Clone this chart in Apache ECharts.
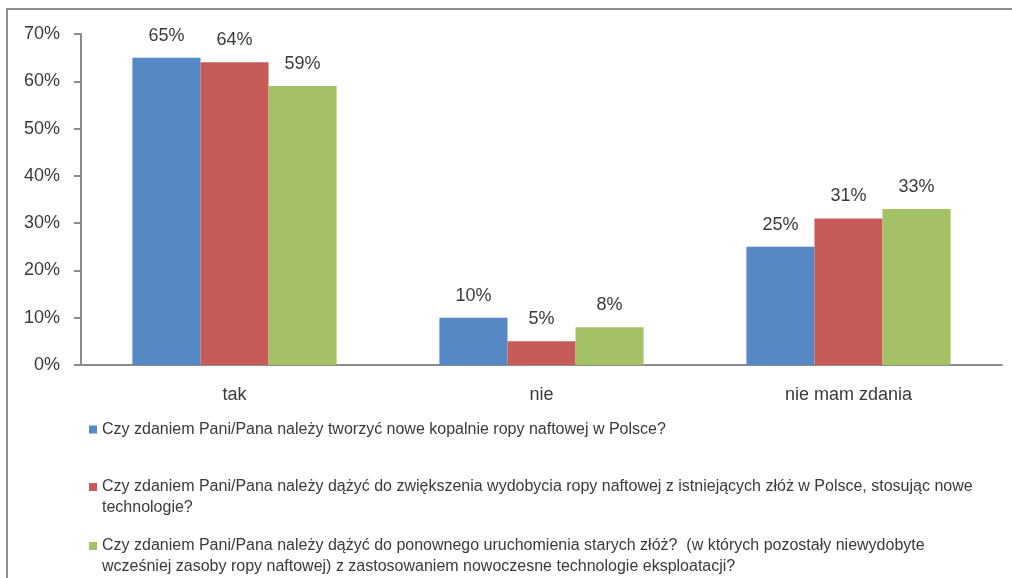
<!DOCTYPE html>
<html>
<head>
<meta charset="utf-8">
<script src="https://cdn.jsdelivr.net/npm/echarts@6/dist/echarts.min.js"></script>
<style>
html,body{margin:0;padding:0;background:#fff;}
#chart{width:1012px;height:578px;}
</style>
</head>
<body>
<div id="chart"></div>
<script>
const categories = ['tak', 'nie', 'nie mam zdania'];
const seriesNames = [
  'Czy zdaniem Pani/Pana należy tworzyć nowe kopalnie ropy naftowej w Polsce?',
  'Czy zdaniem Pani/Pana należy dążyć do zwiększenia wydobycia ropy naftowej z istniejących złóż w Polsce, stosując nowe technologie?',
  'Czy zdaniem Pani/Pana należy dążyć do ponownego uruchomienia starych złóż?  (w których pozostały niewydobyte wcześniej zasoby ropy naftowej) z zastosowaniem nowoczesne technologie eksploatacji?'
];
const valuesNowe = [65, 10, 25];
const valuesZwiekszenie = [64, 5, 31];
const valuesStare = [59, 8, 33];
const yTicks = [0, 10, 20, 30, 40, 50, 60, 70];
// words where the legend text wraps onto a second line
const wrapBefore = ['', 'technologie?', 'wcześniej'];

const colors = ['#5588C4', '#C65B58', '#A4C166'];
const FONT = 'Liberation Sans';
const TEXT = '#3a3a3a';
const AXIS = '#8c8c8c';

function wrapName(name, i) {
  const w = wrapBefore[i];
  if (!w) return name;
  const idx = name.lastIndexOf(' ' + w);
  if (idx < 0) return name;
  // leading blank line keeps the icon level with the first text line
  return ' \n' + name.slice(0, idx) + '\n' + name.slice(idx + 1);
}

const chart = echarts.init(document.getElementById('chart'), null, {renderer: 'canvas'});
const allValues = [valuesNowe, valuesZwiekszenie, valuesStare];

const legendTops = [419, 455.5, 514.5];
const legends = seriesNames.map((n, i) => ({
  data: [n],
  left: 89,
  top: legendTops[i],
  padding: 0,
  orient: 'vertical',
  icon: 'rect',
  itemWidth: 8,
  itemHeight: 8,
  selectedMode: false,
  formatter: (name) => wrapName(name, i),
  textStyle: {
    fontFamily: FONT,
    fontSize: 16,
    color: TEXT,
    lineHeight: 21
  }
}));

chart.setOption({
  animation: false,
  backgroundColor: '#fff',
  color: colors,
  textStyle: {fontFamily: FONT},
  graphic: [{
    type: 'rect',
    shape: {x: 7, y: 9, width: 1200, height: 800},
    style: {fill: 'none', stroke: '#8e8e8e', lineWidth: 2},
    silent: true
  }],
  grid: {left: 81, right: 10, top: 34, bottom: 213, containLabel: false},
  legend: legends,
  xAxis: {
    type: 'category',
    data: categories,
    axisLine: {lineStyle: {color: AXIS, width: 2}},
    axisTick: {show: false},
    axisLabel: {fontFamily: FONT, fontSize: 18, color: TEXT, margin: 21}
  },
  yAxis: {
    type: 'value',
    min: yTicks[0],
    max: yTicks[yTicks.length - 1],
    interval: yTicks[1] - yTicks[0],
    splitLine: {show: false},
    axisLine: {show: true, lineStyle: {color: AXIS, width: 2}},
    axisTick: {show: true, length: 7, lineStyle: {color: AXIS, width: 2}},
    axisLabel: {fontFamily: FONT, fontSize: 18, color: TEXT, margin: 21, formatter: '{value}%'}
  },
  series: seriesNames.map((n, i) => ({
    name: n,
    type: 'bar',
    data: allValues[i],
    barGap: '0%',
    barCategoryGap: '33.5%',
    itemStyle: {color: colors[i]},
    label: {
      show: true,
      position: 'top',
      distance: 13,
      formatter: '{c}%',
      fontFamily: FONT,
      fontSize: 18,
      color: TEXT
    }
  }))
});
</script>
</body>
</html>
